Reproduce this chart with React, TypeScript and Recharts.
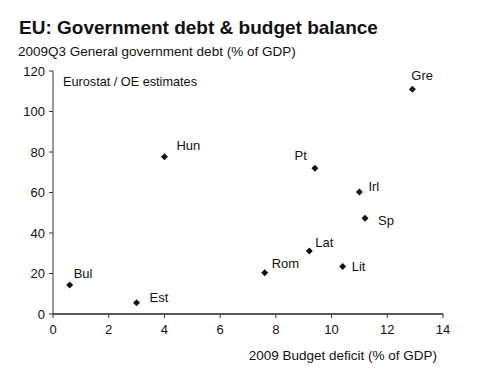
import React from "react";
import { ScatterChart, Scatter, XAxis, YAxis } from "recharts";

const countries = ["Bul", "Est", "Hun", "Rom", "Lat", "Pt", "Lit", "Irl", "Sp", "Gre"];
const deficit = [0.6, 3.0, 4.0, 7.6, 9.2, 9.4, 10.4, 11.0, 11.2, 12.9];
const debt = [14.3, 5.6, 77.7, 20.4, 31.1, 72.0, 23.4, 60.2, 47.3, 111.0];
const xTicks = [0, 2, 4, 6, 8, 10, 12, 14];
const yTicks = [0, 20, 40, 60, 80, 100, 120];

const data = countries.map((name, i) => ({ name, x: deficit[i], y: debt[i] }));

const labelOffsets: Record<string, [number, number, string]> = {
  Bul: [4, -12, "start"],
  Est: [13, -5, "start"],
  Hun: [12, -11, "start"],
  Rom: [7, -9, "start"],
  Lat: [6, -9, "start"],
  Pt: [-8, -13, "end"],
  Lit: [9, 0, "start"],
  Irl: [9, -6, "start"],
  Sp: [13, 2, "start"],
  Gre: [-1, -14, "start"],
};

const FONT = "'Liberation Sans', Arial, sans-serif";

const Point = (props: any) => {
  const { cx, cy, payload } = props;
  const off = labelOffsets[payload.name] || [8, -8, "start"];
  const s = 3.5;
  return (
    <g>
      <path
        d={`M${cx},${cy - s} L${cx + s},${cy} L${cx},${cy + s} L${cx - s},${cy} Z`}
        fill="#111"
      />
      <text
        x={cx + off[0]}
        y={cy + off[1]}
        textAnchor={off[2] as any}
        dominantBaseline="central"
        fontSize={13}
        fontFamily={FONT}
        fill="#111"
      >
        {payload.name}
      </text>
    </g>
  );
};

export default function App() {
  return (
    <div
      style={{
        position: "absolute",
        left: 0,
        top: 0,
        width: 500,
        height: 383,
        background: "#fff",
        fontFamily: FONT,
        color: "#111",
      }}
    >
      <div style={{ position: "absolute", left: 19, top: 17, fontSize: 19, fontWeight: "bold", whiteSpace: "nowrap" }}>
        EU: Government debt &amp; budget balance
      </div>
      <div style={{ position: "absolute", left: 18, top: 44, fontSize: 13.5, whiteSpace: "nowrap" }}>
        2009Q3 General government debt (% of GDP)
      </div>
      <div style={{ position: "absolute", left: 63, top: 75, fontSize: 12.7, whiteSpace: "nowrap" }}>
        Eurostat / OE estimates
      </div>
      <div style={{ position: "absolute", right: 63, top: 348, fontSize: 13.5, whiteSpace: "nowrap" }}>
        2009 Budget deficit (% of GDP)
      </div>
      <div style={{ position: "absolute", left: 0, top: 0 }}>
        <ScatterChart
          width={500}
          height={383}
          margin={{ top: 71, right: 57, bottom: 39, left: 8 }}
        >
          <XAxis
            type="number"
            dataKey="x"
            domain={[0, 14]}
            ticks={xTicks}
            interval={0}
            height={30}
            tickSize={4}
            tickMargin={7}
            axisLine={{ stroke: "#222", strokeWidth: 1.3 }}
            tickLine={{ stroke: "#333" }}
            tick={{ fill: "#111", fontSize: 13, fontFamily: FONT }}
          />
          <YAxis
            type="number"
            dataKey="y"
            domain={[0, 120]}
            ticks={yTicks}
            interval={0}
            width={45}
            tickSize={4}
            tickMargin={4}
            axisLine={{ stroke: "#333" }}
            tickLine={{ stroke: "#333" }}
            tick={{ fill: "#111", fontSize: 13, fontFamily: FONT }}
          />
          <Scatter data={data} shape={<Point />} isAnimationActive={false} />
        </ScatterChart>
      </div>
    </div>
  );
}
